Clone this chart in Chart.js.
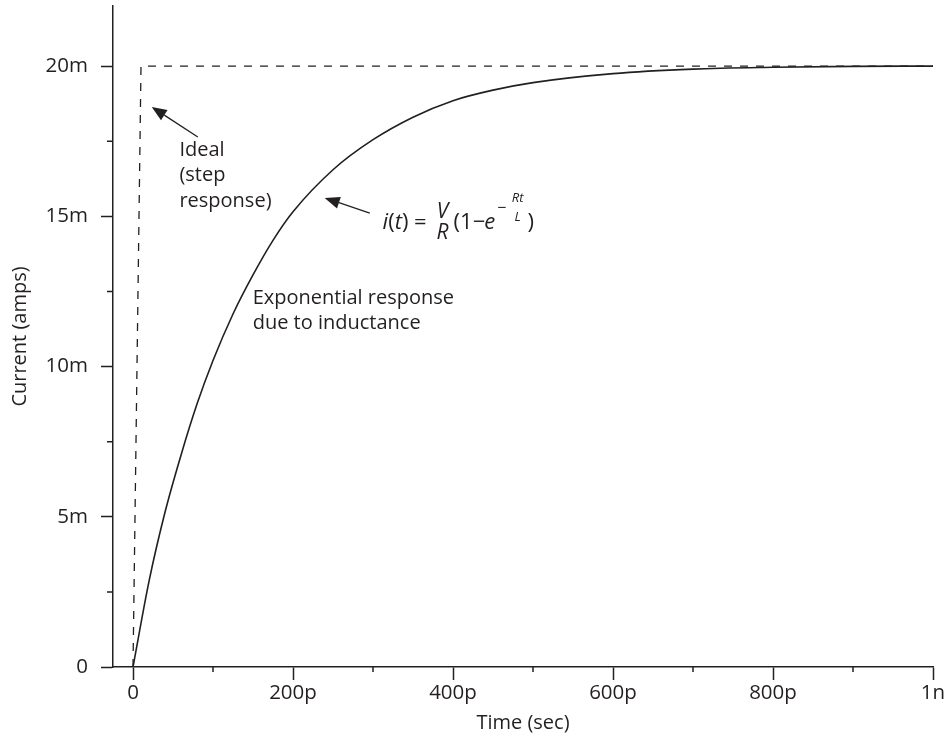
<!DOCTYPE html>
<html>
<head>
<meta charset="utf-8">
<script src="https://cdn.jsdelivr.net/npm/chart.js@4.4.0/dist/chart.umd.min.js"></script>
<style>
  html, body { margin: 0; padding: 0; background: #fff; }
  #wrap { width: 952px; height: 737px; position: relative; }
</style>
</head>
<body>
<div id="wrap"><canvas id="stepChart"></canvas></div>
<script>
// time in picoseconds, current in milliamps
const timePs = [0, 20, 40, 60, 80, 100, 125, 150, 175, 200, 250, 300, 350, 400, 450, 500, 600, 700, 800, 900, 1000];
const currentMa = [0, 2.85, 5.15, 7.05, 8.75, 10.2, 11.75, 13.05, 14.2, 15.15, 16.55, 17.55, 18.3, 18.85, 19.2, 19.45, 19.75, 19.9, 19.96, 19.99, 20.0];

const stepTimePs = [0, 10, 1000];
const stepCurrentMa = [0, 20, 20];

const xTicks = [0, 200, 400, 600, 800, 1000];
const xMinorTicks = [100, 300, 500, 700, 900];
const yTicks = [0, 5, 10, 15, 20];
const yMinorTicks = [2.5, 7.5, 12.5, 17.5];

const ink = "#231f20";
const fontFamily = "'Open Sans', 'Noto Sans', sans-serif";

document.addEventListener("DOMContentLoaded", function () {
    const ctx = document.getElementById("stepChart").getContext("2d");

    const minorTicks = {
        id: "minorTicks",
        afterDraw(chart) {
            const c = chart.ctx;
            const x = chart.scales.x;
            const y = chart.scales.y;
            c.save();
            c.strokeStyle = ink;
            c.lineWidth = 1.5;
            c.beginPath();
            xMinorTicks.forEach(v => {
                const px = x.getPixelForValue(v);
                c.moveTo(px, chart.chartArea.bottom);
                c.lineTo(px, chart.chartArea.bottom + 5);
            });
            yMinorTicks.forEach(v => {
                const py = y.getPixelForValue(v);
                c.moveTo(chart.chartArea.left, py);
                c.lineTo(chart.chartArea.left - 6, py);
            });
            c.stroke();
            c.restore();
        }
    };

    function arrow(c, x1, y1, x2, y2) {
        // from (x1,y1) to the tip at (x2,y2)
        const ang = Math.atan2(y2 - y1, x2 - x1);
        const len = 15, half = 6;
        const bx = x2 - len * Math.cos(ang), by = y2 - len * Math.sin(ang);
        c.beginPath();
        c.moveTo(x1, y1);
        c.lineTo(bx, by);
        c.stroke();
        c.beginPath();
        c.moveTo(x2, y2);
        c.lineTo(bx + half * Math.sin(ang), by - half * Math.cos(ang));
        c.lineTo(bx - half * Math.sin(ang), by + half * Math.cos(ang));
        c.closePath();
        c.fill();
    }

    const notes = {
        id: "notes",
        afterDraw(chart) {
            const c = chart.ctx;
            const x = chart.scales.x;
            const y = chart.scales.y;
            c.save();
            c.fillStyle = ink;
            c.strokeStyle = ink;
            c.lineWidth = 1.3;
            c.textBaseline = "middle";
            c.textAlign = "left";

            // ideal step label
            c.font = "20px " + fontFamily;
            const ix = x.getPixelForValue(58);
            ["Ideal", "(step", "response)"].forEach((s, k) => {
                c.fillText(s, ix, y.getPixelForValue(17.2) + k * 25.5);
            });
            arrow(c, x.getPixelForValue(81), y.getPixelForValue(17.64),
                     x.getPixelForValue(23.4), y.getPixelForValue(18.64));

            // exponential label
            const ex = x.getPixelForValue(149.6);
            c.fillText("Exponential response", ex, y.getPixelForValue(12.28));
            c.fillText("due to inductance", ex, y.getPixelForValue(11.45));

            arrow(c, x.getPixelForValue(296), y.getPixelForValue(15.11),
                     x.getPixelForValue(239.6), y.getPixelForValue(15.61));

            // formula i(t) = V/R (1 - e^(-Rt/L))
            const x0 = x.getPixelForValue(312);
            const fy = y.getPixelForValue(14.8);
            const norm = "22px " + fontFamily;
            const ital = "italic 22px " + fontFamily;
            let fx = x0;
            function put(s, font, dy) {
                c.font = font;
                c.fillText(s, fx, fy + (dy || 0));
                fx += c.measureText(s).width;
            }
            put("i", ital);
            put("(", norm);
            put("t", ital);
            put(") = ", norm);
            c.font = "italic 21px " + fontFamily;
            c.textAlign = "center";
            c.fillText("V", x0 + 60, fy - 10);
            c.fillText("R", x0 + 60, fy + 11);
            c.textAlign = "left";
            fx = x0 + 71;
            put("(1\u2212", norm);
            fx -= 1;
            put("e", ital);
            fx += 2;
            put("\u2212", "16px " + fontFamily, -14);
            c.font = "italic 13px " + fontFamily;
            c.textAlign = "center";
            c.fillText("Rt", x0 + 135, fy - 24);
            c.fillText("L", x0 + 135, fy - 5);
            c.textAlign = "left";
            fx = x0 + 145;
            put(")", norm);
            c.restore();
        }
    };

    const axisTickOpts = {
        drawOnChartArea: false,
        drawTicks: true,
        tickColor: ink,
        tickWidth: 1.5,
    };

    function noPad(scale) {
        scale.paddingTop = 0;
        scale.paddingBottom = 0;
        scale.paddingLeft = 0;
        scale.paddingRight = 0;
    }

    new Chart(ctx, {
        type: "line",
        data: {
            datasets: [{
                label: "Exponential",
                data: timePs.map((t, k) => ({ x: t, y: currentMa[k] })),
                borderColor: ink,
                borderWidth: 1.6,
                pointRadius: 0,
                cubicInterpolationMode: "monotone",
                fill: false,
            }, {
                label: "Ideal",
                data: stepTimePs.map((t, k) => ({ x: t, y: stepCurrentMa[k] })),
                borderColor: ink,
                borderWidth: 1.3,
                borderDash: [8, 8],
                pointRadius: 0,
                tension: 0,
                fill: false,
            }],
        },
        options: {
            responsive: true,
            maintainAspectRatio: false,
            animation: false,
            layout: { padding: { left: 0, right: 19, top: 6, bottom: 0 } },
            plugins: {
                legend: { display: false },
                tooltip: { enabled: false },
            },
            scales: {
                x: {
                    type: "linear",
                    min: -25,
                    max: 1000,
                    afterBuildTicks: scale => { scale.ticks = xTicks.map(v => ({ value: v })); },
                    afterFit: scale => { scale.height = 70; noPad(scale); },
                    grid: Object.assign({ tickLength: 13 }, axisTickOpts),
                    border: { display: true, color: ink, width: 1.5 },
                    ticks: {
                        color: ink,
                        padding: 1,
                        maxRotation: 0,
                        font: { family: fontFamily, size: 20.5 },
                        callback: v => v === 0 ? "0" : (v >= 1000 ? (v / 1000) + "n" : v + "p"),
                    },
                    title: {
                        display: true,
                        text: "Time (sec)",
                        color: ink,
                        font: { family: fontFamily, size: 20 },
                        padding: { top: 0, bottom: 2 },
                    },
                },
                y: {
                    type: "linear",
                    min: 0,
                    max: 22,
                    afterBuildTicks: scale => { scale.ticks = yTicks.map(v => ({ value: v })); },
                    afterFit: scale => { scale.width = 113; noPad(scale); },
                    grid: Object.assign({ tickLength: 12 }, axisTickOpts),
                    border: { display: true, color: ink, width: 1.5 },
                    ticks: {
                        color: ink,
                        padding: 13,
                        font: { family: fontFamily, size: 20.5 },
                        callback: v => v === 0 ? "0" : v + "m",
                    },
                    title: {
                        display: true,
                        text: "Current (amps)",
                        color: ink,
                        font: { family: fontFamily, size: 20 },
                        padding: { top: 8, bottom: 0 },
                    },
                },
            },
        },
        plugins: [minorTicks, notes],
    });
});
</script>
</body>
</html>
